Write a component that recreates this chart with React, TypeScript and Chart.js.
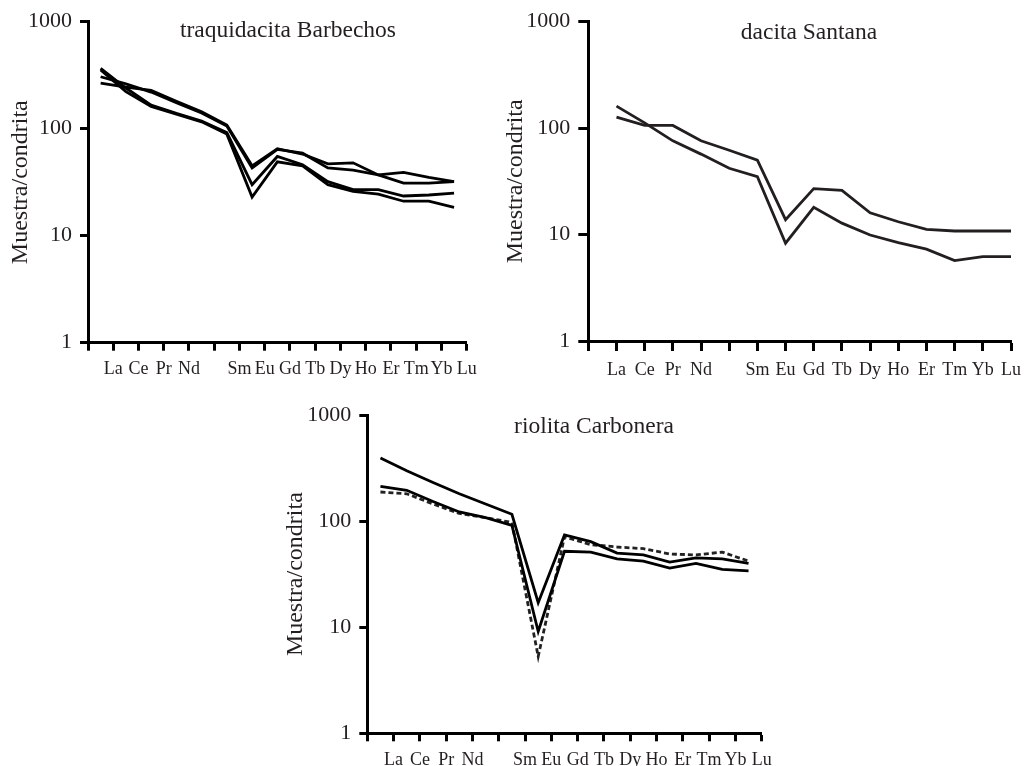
import React, { useEffect, useRef } from "react";
import { Chart, registerables } from "chart.js";

Chart.register(...registerables);

// Tick positions: origin, La ... Lu (Pm left unlabelled)
const TICK_LABELS = ["", "La", "Ce", "Pr", "Nd", "", "Sm", "Eu", "Gd", "Tb", "Dy", "Ho", "Er", "Tm", "Yb", "Lu"];
const ELEMENTS = ["La", "Ce", "Pr", "Nd", "Pm", "Sm", "Eu", "Gd", "Tb", "Dy", "Ho", "Er", "Tm", "Yb", "Lu"];
const Y_TICKS = [1, 10, 100, 1000];
const Y_TITLE = "Muestra/condrita";

// traquidacita Barbechos
const BARBECHOS_1 = [266, 245, 228, 180, 144, 108, 45, 65, 58, 47, 48, 37, 31, 31, 32];
const BARBECHOS_2 = [306, 262, 220, 175, 140, 106, 43, 64, 59, 43, 41, 37, 39, 35, 32];
const BARBECHOS_3 = [367, 240, 166, 139, 118, 92, 30, 55, 46, 32, 27, 27, 23.5, 24, 25];
const BARBECHOS_4 = [354, 222, 161, 137, 116, 89, 23, 49, 45, 30, 26, 24.5, 21, 21, 18.4];

// dacita Santana
const SANTANA_1 = [161, 112, 76, 57, 42, 35, 8.3, 18, 12.8, 9.9, 8.4, 7.3, 5.7, 6.2, 6.2];
const SANTANA_2 = [127, 106, 106, 76, 62, 50, 13.8, 27, 26, 16, 13.2, 11.2, 10.8, 10.8, 10.8];

// riolita Carbonera
const CARBONERA_1 = [394, 298, 231, 181, 145, 116, 17, 74, 64, 50, 48, 41, 45, 44, 40];
const CARBONERA_2 = [213, 195, 153, 122, 108, 91, 9.1, 52, 51, 44, 42, 36, 40, 35, 34];
const CARBONERA_3 = [188, 181, 145, 118, 108, 97, 5.3, 71, 60, 57, 55, 49, 48, 51, 42];

const FONT = "'Liberation Serif', 'Times New Roman', serif";
const TEXT = "#231f20";

type Series = { values: number[]; dash?: number[]; color: string };
type PanelProps = {
  title: string;
  series: Series[];
  left: number;
  top: number;
  width: number;
  height: number;
  area: { l: number; r: number; t: number; b: number };
  shift: number;
  tickLen: number;
  yTitlePad: number;
  titleX: number;
  titleY: number;
};

function Panel(p: PanelProps) {
  const ref = useRef<HTMLCanvasElement | null>(null);
  useEffect(() => {
    if (!ref.current) return;
    const titlePlugin = {
      id: "panelTitle",
      afterDraw(chart: any) {
        const ctx = chart.ctx;
        ctx.save();
        ctx.font = `23.5px ${FONT}`;
        ctx.fillStyle = TEXT;
        ctx.textAlign = "center";
        ctx.textBaseline = "alphabetic";
        ctx.fillText(p.title, p.titleX, p.titleY);
        ctx.restore();
      },
    };
    const gridOpts = {
      display: true,
      drawOnChartArea: false,
      drawTicks: true,
      tickLength: p.tickLen,
      tickWidth: 3,
      color: "#000",
    };
    const chart = new Chart(ref.current, {
      type: "line",
      data: {
        datasets: p.series.map((s, k) => ({
          label: "s" + k,
          data: s.values.map((v, i) => ({ x: i + 1 - p.shift, y: v })),
          borderColor: s.color,
          borderWidth: 2.8,
          borderDash: s.dash || [],
          pointRadius: 0,
          fill: false,
          tension: 0,
        })),
      },
      options: {
        animation: false,
        responsive: false,
        maintainAspectRatio: false,
        layout: { padding: { left: 0, right: p.width - p.area.r, top: p.area.t, bottom: 0 } },
        plugins: { legend: { display: false }, tooltip: { enabled: false }, title: { display: false } },
        scales: {
          x: {
            type: "linear",
            min: 0,
            max: TICK_LABELS.length - 1,
            afterBuildTicks: (s: any) => {
              s.ticks = TICK_LABELS.map((_, i) => ({ value: i }));
            },
            afterFit: (s: any) => {
              s.height = p.height - p.area.b;
            },
            ticks: {
              autoSkip: false,
              maxRotation: 0,
              minRotation: 0,
              padding: 8,
              color: TEXT,
              font: { family: FONT, size: 18 },
              callback: (v: any) => TICK_LABELS[Math.round(Number(v))] ?? "",
            },
            grid: gridOpts,
            border: { display: true, width: 3, color: "#000" },
          },
          y: {
            type: "logarithmic",
            min: 1,
            max: 1000,
            afterBuildTicks: (s: any) => {
              s.ticks = Y_TICKS.map((v) => ({ value: v }));
            },
            afterFit: (s: any) => {
              s.width = p.area.l;
            },
            ticks: {
              autoSkip: false,
              padding: 8,
              color: TEXT,
              font: { family: FONT, size: 22 },
              callback: (v: any) => String(v),
            },
            grid: gridOpts,
            border: { display: true, width: 3, color: "#000" },
            title: {
              display: true,
              text: Y_TITLE,
              color: TEXT,
              font: { family: FONT, size: 24 },
              padding: { top: p.yTitlePad, bottom: 0 },
            },
          },
        },
      } as any,
      plugins: [titlePlugin],
    });
    return () => chart.destroy();
  }, []);
  return (
    <canvas
      ref={ref}
      width={p.width}
      height={p.height}
      style={{ position: "absolute", left: p.left, top: p.top, width: p.width, height: p.height }}
    />
  );
}

export default function App() {
  return (
    <div style={{ position: "absolute", left: 0, top: 0, width: 1029, height: 766, background: "#fff", overflow: "hidden" }}>
      <Panel
        title="traquidacita Barbechos"
        series={[
          { values: BARBECHOS_1, color: "#000" },
          { values: BARBECHOS_2, color: "#000" },
          { values: BARBECHOS_3, color: "#000" },
          { values: BARBECHOS_4, color: "#000" },
        ]}
        left={0}
        top={0}
        width={490}
        height={390}
        area={{ l: 88, r: 466.7, t: 21.7, b: 342.7 }}
        shift={0.5}
        tickLen={8}
        yTitlePad={6}
        titleX={288}
        titleY={36.7}
      />
      <Panel
        title="dacita Santana"
        series={[
          { values: SANTANA_1, color: "#231f20" },
          { values: SANTANA_2, color: "#231f20" },
        ]}
        left={500}
        top={0}
        width={529}
        height={390}
        area={{ l: 88.3, r: 514.3, t: 21.7, b: 341 }}
        shift={0}
        tickLen={10}
        yTitlePad={1}
        titleX={309}
        titleY={39.3}
      />
      <Panel
        title="riolita Carbonera"
        series={[
          { values: CARBONERA_1, color: "#000" },
          { values: CARBONERA_2, color: "#000" },
          { values: CARBONERA_3, color: "#222", dash: [5, 3] },
        ]}
        left={280}
        top={390}
        width={500}
        height={376}
        area={{ l: 87.3, r: 481.7, t: 25, b: 343.3 }}
        shift={0.5}
        tickLen={8}
        yTitlePad={1}
        titleX={314}
        titleY={43.3}
      />
    </div>
  );
}
